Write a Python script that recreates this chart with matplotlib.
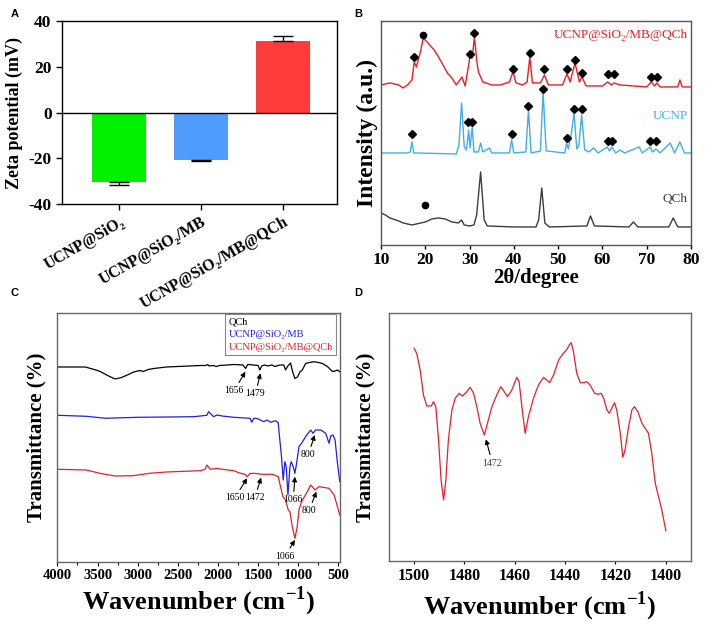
import matplotlib
matplotlib.use('Agg')
import matplotlib.pyplot as plt
from matplotlib.ticker import MultipleLocator

plt.rcParams['font.family'] = ['Liberation Serif', 'DejaVu Serif']
plt.rcParams['axes.unicode_minus'] = False
plt.rcParams['mathtext.fontset'] = 'custom'
plt.rcParams['mathtext.rm'] = 'Liberation Serif'
plt.rcParams['mathtext.bf'] = 'Liberation Serif:bold'

# ---- A: zeta potential ----
zeta_samples = ['UCNP@SiO₂', 'UCNP@SiO₂/MB', 'UCNP@SiO₂/MB@QCh']
zeta_mean = [-30.5, -20.6, 31.2]
zeta_err = [1.1, 0.5, 2.4]
zeta_colors = ['#00f000', '#4f9cff', '#ff3b3b']

# ---- B: XRD patterns (2theta, intensity a.u.) ----
xrd_comp_x = [10, 12, 14, 15, 16, 17, 17.5, 18, 19, 19.5, 20, 21, 22, 23, 24, 25, 26, 27,
              28.3, 29, 29.8, 30.2, 30.6, 31.1, 31.6, 32, 33, 35, 37, 39, 39.8, 40.5, 42, 43,
              43.6, 44.2, 46, 46.9, 47.8, 51, 52, 52.7, 53.8, 54.8, 55.4, 56.3, 60, 61.2, 62,
              62.6, 64, 70, 71, 71.8, 72.3, 73, 77, 77.5, 78, 80]
xrd_comp_y = [160, 162, 160, 157, 160, 165, 183, 178, 195, 206, 205, 200, 195, 188, 180, 172, 167, 160,
              168, 159, 180, 192, 187, 208, 185, 173, 163, 160, 160, 163, 173, 162, 160, 163,
              188, 162, 162, 170, 160, 160, 171, 163, 182, 163, 168, 159, 159, 163, 160,
              162, 160, 158, 163, 159, 162, 158, 158, 165, 158, 158]
xrd_ucnp_x = [10, 16, 16.6, 17, 17.4, 27, 27.6, 28.2, 28.8, 29.3, 29.8, 30.1, 30.6, 31, 32, 32.5,
              33, 34.5, 35, 39, 39.5, 40, 42.7, 43.3, 43.9, 46, 46.6, 47.3, 51.5, 51.9, 52.3, 53.0,
              53.6, 54.2, 54.7, 55.3, 56, 57, 58, 59, 61.1, 61.6, 62.1, 63, 64, 65, 68.3, 69, 70.8,
              71.3, 72.1, 73, 75.3, 76.3, 77.5, 78.5, 80]
xrd_ucnp_y = [92, 92, 93, 103, 92, 91, 100, 142, 98, 95, 115, 97, 118, 93, 93, 102,
              93, 97, 92, 92, 105, 92, 93, 135, 92, 94, 153, 94, 92, 102, 96, 112,
              132, 96, 100, 130, 95, 93, 97, 92, 98, 94, 98, 92, 95, 92, 98, 92, 98,
              93, 96, 92, 102, 92, 103, 92, 92]
xrd_qch_x = [10, 11, 12, 14, 15, 17, 18, 20, 21.5, 23, 24.5, 26, 27.5, 28.2, 28.8, 30, 31, 31.6,
             32.5, 33.3, 34, 40, 45, 45.6, 46.3, 47.0, 48, 56.5, 57.3, 58.2, 66, 67, 68, 75, 76, 77, 80]
xrd_qch_y = [32, 30, 27, 24, 22, 20, 21, 23, 26, 27, 26, 23, 22, 25, 20, 19, 20, 30,
             73, 25, 19, 18, 18, 25, 57, 22, 18, 19, 29, 19, 18, 23, 18, 18, 27, 18, 18]
# phase marks
comp_diamond_x = [17.5, 30.2, 31.1, 39.8, 43.6, 46.9, 52, 53.8, 55.5, 61.3, 62.6, 71, 72.4]
comp_diamond_y = [188, 191, 212, 176, 192, 176, 176, 185, 172, 171, 171, 168, 168]
comp_circle_x = [19.5]
comp_circle_y = [210]
ucnp_diamond_x = [17, 29.6, 30.6, 39.5, 43.2, 46.6, 52, 53.6, 55.3, 61.2, 62.1, 70.8, 72.1]
ucnp_diamond_y = [111, 123, 123, 111, 139, 156, 107, 136, 136, 104, 104, 104, 104]
qch_circle_x = [19.9]
qch_circle_y = [40]

# ---- C: FTIR (wavenumber, transmittance a.u.) ----
ftir_qch_x = [4000, 3650, 3480, 3350, 3280, 3200, 3100, 3050, 2970, 2930, 2870, 2800, 2640, 2220,
              2150, 2130, 2110, 2060, 2020, 1980, 1800, 1690, 1656, 1630, 1560, 1500, 1479, 1455,
              1420, 1380, 1330, 1290, 1230, 1180, 1159, 1130, 1096, 1070, 1042, 1010, 980, 950,
              909, 860, 805, 750, 700, 637, 575, 540, 512, 480]
ftir_qch_y = [195, 195, 191, 185.5, 183, 184.5, 188, 190, 191.5, 190.5, 192.5, 193.5, 195, 196.5,
              196.5, 197.5, 196, 196.5, 195.5, 196.5, 197.5, 197, 193.5, 197.5, 197, 196.5, 192, 196,
              197, 196, 197, 195.5, 197, 197, 192, 196, 199, 190, 183.5, 185, 190, 192,
              198.5, 199.5, 200.3, 199.5, 198.5, 195.5, 190.5, 191, 192, 190]
ftir_mb_x = [4000, 3640, 3400, 3000, 2600, 2300, 2138, 2117, 2054, 2012, 1950, 1804, 1600, 1580,
             1554, 1512, 1430, 1387, 1346, 1284, 1250, 1242, 1209, 1188, 1167, 1150, 1129, 1104,
             1088, 1063, 1042, 1021, 992, 959, 909, 846, 817, 784, 721, 659, 617, 596, 567, 542,
             512, 484]
ftir_mb_y = [146.7, 145.7, 143.7, 144.7, 145, 145.3, 146.7, 150.3, 145.3, 147, 146, 144.7, 143.7, 139.7,
             143.7, 143.5, 140.3, 142, 139.7, 141.3, 139.3, 132, 105.3, 82, 100.3, 95.3, 67, 95.3,
             100.3, 95.3, 88.7, 98.7, 115.3, 118.7, 125.3, 132, 128.7, 132, 132, 128.7, 118.7, 126, 127, 122,
             98.7, 80.3]
ftir_comp_x = [4000, 3640, 3470, 3280, 3055, 2850, 2640, 2220, 2160, 2138, 2096, 2012, 1971, 1804,
               1742, 1660, 1637, 1600, 1554, 1450, 1325, 1284, 1250, 1221, 1192, 1159, 1125, 1104,
               1075, 1042, 1013, 992, 959, 888, 846, 792, 742, 617, 554, 512, 484]
ftir_comp_y = [92.7, 92, 88.7, 86, 86.3, 88.7, 90, 91.3, 92.7, 97, 92.7, 93.7, 93, 91.3,
               89.3, 87.5, 85.3, 88.5, 88.7, 87.7, 87.7, 86.5, 85.3, 75.3, 65.3, 62, 52, 50.3,
               35.3, 23.7, 35.3, 52, 60.3, 70.3, 77, 72, 75.3, 73.7, 67, 55.3, 47]
ftir_labels = ['QCh', 'UCNP@SiO₂/MB', 'UCNP@SiO₂/MB@QCh']

# ---- D: FTIR zoom 1500-1400 ----
ftir_zoom_x = [1500, 1499, 1497.6, 1496.3, 1495, 1493.2, 1492.3, 1491.4, 1490.3, 1489.3, 1488.3,
               1487.4, 1486.4, 1485, 1483.7, 1482.1, 1480.8, 1479.1, 1477.7, 1476.4, 1475.1,
               1473.8, 1472.1, 1470.7, 1469.1, 1467.2, 1465.6, 1464.2, 1462.9, 1461.2, 1459.2,
               1458.3, 1457.2, 1455.9, 1454.6, 1452.6, 1450.6, 1448.6, 1447.3, 1446.2, 1444.6,
               1442.6, 1440.7, 1439.3, 1438.4, 1437.6, 1436.7, 1435.4, 1434.0, 1432.7, 1431.4,
               1430.1, 1428.3, 1427.0, 1425.7, 1424.8, 1423.4, 1422.5, 1421.5, 1420.4, 1419.5,
               1418.1, 1417.1, 1416.2, 1414.8, 1413.5, 1412.5, 1411.1, 1409.5, 1408.2, 1406.9,
               1405.6, 1404.2, 1402.9, 1401.6, 1400]
ftir_zoom_y = [212.7, 207.7, 191, 166, 155, 155, 159.3, 154.3, 121, 81, 61,
               81, 121, 151, 162.7, 167.7, 165, 169.3, 173.7, 167.7, 154.3,
               137.7, 126, 139.3, 154.3, 166, 174.3, 169.3, 164.3, 171, 183.7,
               179.3, 154.3, 127.7, 144.3, 162.7, 176, 183.7, 181, 178.3, 186,
               201, 207.7, 211.7, 216, 218.3, 209.3, 187.7, 178.3, 178.3, 179.3,
               176, 167.7, 166.7, 167.7, 163.3, 151, 147.7, 152.7, 158.3, 151,
               127.7, 103.7, 111, 134.3, 151, 154.3, 149.3, 137.7, 132.7, 127.7,
               107.7, 77.7, 64.3, 51, 30.3]

BOLD = dict(fontweight='bold')
WAVENUMBER = r'Wavenumber (cm$^{\mathbf{-1}}$)'


def style_spines(ax, color, lw=1.0):
    for s in ax.spines.values():
        s.set_color(color)
        s.set_linewidth(lw)


def panel_letter(fig, x, y, letter):
    fig.text(x, y, letter, family='Liberation Sans', fontweight='bold', fontsize=8,
             ha='left', va='top')


def arrow_note(ax, text, tip, text_pos, color='black', size=7):
    ax.annotate(text, xy=tip, xytext=text_pos, ha='center', va='center', fontsize=size,
                color=color,
                arrowprops=dict(arrowstyle='-|>', color='black', lw=0.8,
                                mutation_scale=7, shrinkA=1, shrinkB=0))


fig = plt.figure(figsize=(7.08, 6.27), dpi=100)

# A
axA = fig.add_axes([0.0876, 0.6746, 0.3884, 0.2919])
pos = list(range(len(zeta_samples)))
lower = [e if m < 0 else 0 for m, e in zip(zeta_mean, zeta_err)]
upper = [e if m > 0 else 0 for m, e in zip(zeta_mean, zeta_err)]
axA.bar(pos, zeta_mean, width=0.66, color=zeta_colors, zorder=2)
axA.errorbar(pos, zeta_mean, yerr=[lower, upper], fmt='none', ecolor='black',
             elinewidth=1, capsize=7.5, capthick=1, zorder=3)
axA.axhline(0, color='black', lw=1, zorder=4)
axA.set_xlim(-0.7, 2.66)
axA.set_ylim(-40, 40)
axA.set_yticks([-40, -20, 0, 20, 40])
axA.set_xticks(pos)
axA.set_xticklabels(zeta_samples, rotation=30, ha='right', rotation_mode='anchor',
                    fontsize=11.5, **BOLD)
for lab in axA.get_yticklabels():
    lab.set_fontsize(12.5)
    lab.set_fontweight('bold')
axA.tick_params(axis='both', direction='out', length=4, width=1)
axA.set_ylabel('Zeta potential (mV)', fontsize=13, labelpad=4, **BOLD)
style_spines(axA, 'black')

# B
axB = fig.add_axes([0.5381, 0.6093, 0.4379, 0.3573])
axB.plot(xrd_qch_x, xrd_qch_y, color='#3c3c3c', lw=1)
axB.plot(xrd_ucnp_x, xrd_ucnp_y, color='#42aee8', lw=1)
axB.plot(xrd_comp_x, xrd_comp_y, color='#ee1d23', lw=1)
axB.plot(comp_diamond_x, comp_diamond_y, 'D', color='black', ms=3.6, ls='none')
axB.plot(ucnp_diamond_x, ucnp_diamond_y, 'D', color='black', ms=3.6, ls='none')
axB.plot(comp_circle_x + qch_circle_x, comp_circle_y + qch_circle_y, 'o', color='black',
         ms=4.5, ls='none')
axB.text(79.3, 210, 'UCNP@SiO₂/MB@QCh', color='#ee1d23', fontsize=9.5, ha='right', va='center')
axB.text(79.3, 129, 'UCNP', color='#42aee8', fontsize=9.5, ha='right', va='center')
axB.text(79.3, 46, 'QCh', color='#3c3c3c', fontsize=9.5, ha='right', va='center')
axB.set_xlim(10, 80)
axB.set_ylim(0, 224)
axB.set_xticks(range(10, 81, 10))
axB.set_yticks([])
for lab in axB.get_xticklabels():
    lab.set_fontsize(12.5)
    lab.set_fontweight('bold')
axB.tick_params(axis='x', direction='out', length=3, width=1, pad=2)
axB.set_xlabel('2θ/degree', fontsize=15, labelpad=0, **BOLD)
axB.set_ylabel('Intensity (a.u.)', fontsize=17, labelpad=2, **BOLD)
style_spines(axB, '#555555')

# C
axC = fig.add_axes([0.081, 0.1037, 0.3993, 0.3971])
lines = [
    axC.plot(ftir_qch_x, ftir_qch_y, color='black', lw=0.9)[0],
    axC.plot(ftir_mb_x, ftir_mb_y, color='#1f1fe6', lw=0.9)[0],
    axC.plot(ftir_comp_x, ftir_comp_y, color='#e3202c', lw=0.9)[0],
]
leg = axC.legend(lines, ftir_labels, loc='upper right', bbox_to_anchor=(0.985, 0.997),
                 borderaxespad=0, handlelength=0, handletextpad=0, labelcolor='linecolor',
                 fontsize=7.5, fancybox=False, edgecolor='#888888', framealpha=1,
                 labelspacing=0.35, borderpad=0.3)
leg.get_frame().set_linewidth(0.8)
arrow_note(axC, '1656', (1659, 190.3), (1800, 171))
arrow_note(axC, '1479', (1471, 188.7), (1534, 168))
arrow_note(axC, '800', (796, 127), (875, 107))
arrow_note(axC, '1066', (1042, 85.3), (1063, 62))
arrow_note(axC, '1650', (1637, 83.7), (1792, 64))
arrow_note(axC, '1472', (1463, 84.3), (1542, 64))
arrow_note(axC, '800', (775, 70.3), (867, 51))
arrow_note(axC, '1066', (1042, 22), (1167, 5.5))
axC.set_xlim(4000, 480)
axC.set_ylim(0, 249)
axC.xaxis.set_major_locator(MultipleLocator(500))
axC.xaxis.set_minor_locator(MultipleLocator(250))
axC.set_yticks([])
for lab in axC.get_xticklabels():
    lab.set_fontsize(10.5)
    lab.set_fontweight('bold')
axC.tick_params(axis='x', which='both', direction='out', width=0.8, pad=2)
axC.tick_params(axis='x', which='major', length=3)
axC.tick_params(axis='x', which='minor', length=2)
axC.set_xlabel(WAVENUMBER, fontsize=19, labelpad=2, **BOLD)
axC.set_ylabel('Transmittance (%)', fontsize=15, labelpad=8, **BOLD)
style_spines(axC, '#666666')

# D
axD = fig.add_axes([0.5494, 0.1053, 0.4266, 0.3955])
axD.plot(ftir_zoom_x, ftir_zoom_y, color='#e3202c', lw=0.9)
arrow_note(axD, '1472', (1471.5, 121.7), (1468.9, 97.7), color='#444444')
axD.set_xlim(1510, 1390)
axD.set_ylim(0, 248)
axD.set_xticks(range(1500, 1399, -20))
axD.set_yticks([])
for lab in axD.get_xticklabels():
    lab.set_fontsize(11.5)
    lab.set_fontweight('bold')
axD.tick_params(axis='x', direction='out', length=2, width=0.8, pad=3)
axD.set_xlabel(WAVENUMBER, fontsize=19, labelpad=4, **BOLD)
axD.set_ylabel('Transmittance (%)', fontsize=15, labelpad=10, **BOLD)
style_spines(axD, '#666666')

panel_letter(fig, 0.015, 0.985, 'A')
panel_letter(fig, 0.500, 0.985, 'B')
panel_letter(fig, 0.015, 0.540, 'C')
panel_letter(fig, 0.500, 0.540, 'D')

fig.savefig('out.png', dpi=100)
